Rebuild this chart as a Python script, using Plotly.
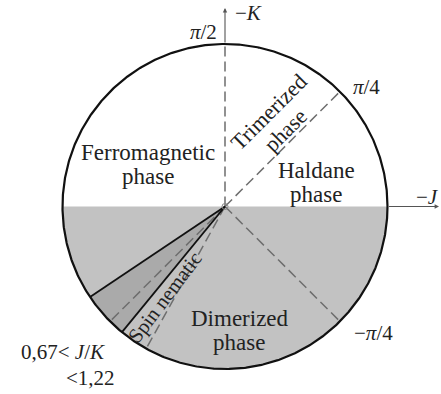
import numpy as np
import plotly.graph_objects as go

# ---- data ----
boundary_ratios = [0.67, 1.22]          # J/K boundaries of the spin-nematic wedge
dashed_angles_deg = [90, 45, 225, 241, -45]
tick_labels = ["<i>π</i>/2", "<i>π</i>/4", "−<i>π</i>/4"]
axis_labels = ["−<i>K</i>", "−<i>J</i>"]
phase_labels = ["Ferromagnetic", "phase", "Haldane", "phase", "Dimerized", "phase"]
rotated_labels = ["Trimerized", "phase", "Spin nematic"]
range_labels = ["0,67&lt; <i>J</i>/<i>K</i>", "&lt;1,22"]

W, H = 441, 394
CX, CY, R = 225, 206.5, 162.5


def px(x, y):
    return (x - CX) / R, (CY - y) / R


FONT = "Liberation Serif, Times New Roman, serif"
fig = go.Figure()

# lower half gray
t = np.radians(np.linspace(180, 360, 181))
fig.add_trace(go.Scatter(x=np.cos(t), y=np.sin(t), fill="toself", fillcolor="#c2c2c2",
                         mode="none", hoverinfo="skip"))
# wedge
a0 = 180 + np.degrees(np.arctan(boundary_ratios[0]))
a1 = 180 + np.degrees(np.arctan(boundary_ratios[1]))
tw = np.radians(np.linspace(a0, a1, 50))
fig.add_trace(go.Scatter(x=np.concatenate([[0], np.cos(tw), [0]]),
                         y=np.concatenate([[0], np.sin(tw), [0]]),
                         fill="toself", fillcolor="#aaaaaa", mode="none", hoverinfo="skip"))
# dashed lines
for a in dashed_angles_deg:
    ar = np.radians(a)
    fig.add_trace(go.Scatter(x=[0, np.cos(ar)], y=[0, np.sin(ar)], mode="lines",
                             line=dict(color="#6e6e6e", width=1.5, dash="10px,5px"),
                             hoverinfo="skip"))
# wedge boundaries
for a in (a0, a1):
    ar = np.radians(a)
    fig.add_trace(go.Scatter(x=[0, np.cos(ar)], y=[0, np.sin(ar)], mode="lines",
                             line=dict(color="#111111", width=1.8), hoverinfo="skip"))
# circle
tc = np.radians(np.linspace(0, 360, 721))
fig.add_trace(go.Scatter(x=np.cos(tc), y=np.sin(tc), mode="lines",
                         line=dict(color="#111111", width=2.2), hoverinfo="skip"))
# centre mark
fig.add_trace(go.Scatter(x=[0], y=[0], mode="markers",
                         marker=dict(symbol="circle-open", size=6, color="#888888", line=dict(width=1)),
                         hoverinfo="skip"))

ann = []
# axis arrows
x1, y1 = px(225, 8)
ann.append(dict(x=0, y=y1, ax=0, ay=1.0, xref="x", yref="y", axref="x", ayref="y",
                text="", showarrow=True, arrowhead=2, arrowsize=0.8, arrowwidth=1.1,
                arrowcolor="#555555"))
x2, y2 = px(439, 206.5)
ann.append(dict(x=x2, y=0, ax=1.0, ay=0, xref="x", yref="y", axref="x", ayref="y",
                text="", showarrow=True, arrowhead=2, arrowsize=0.8, arrowwidth=1.1,
                arrowcolor="#555555"))


def txt(s, x, y, size, angle=0):
    dx, dy = px(x, y)
    ann.append(dict(x=dx, y=dy, xref="x", yref="y", text=s, showarrow=False,
                    textangle=angle, font=dict(family=FONT, size=size, color="#222222"),
                    xanchor="center", yanchor="middle"))


txt(axis_labels[0], 248, 13, 21)
txt(axis_labels[1], 427, 197, 21)
txt(tick_labels[0], 203, 32, 21)
txt(tick_labels[1], 366, 87, 21)
txt(tick_labels[2], 373, 333, 21)

txt(phase_labels[0], 148, 152, 23)
txt(phase_labels[1], 148, 176, 23)
txt(phase_labels[2], 316, 170, 23)
txt(phase_labels[3], 316, 194, 23)
txt(phase_labels[4], 240, 318, 23)
txt(phase_labels[5], 239, 342, 23)

txt(rotated_labels[0], 268, 112, 22, -45)
txt(rotated_labels[1], 285, 130, 22, -45)
txt(rotated_labels[2], 165, 297, 20.5, -53)

txt(range_labels[0], 63, 352, 21)
txt(range_labels[1], 90, 378, 21)

fig.update_layout(
    width=W, height=H, margin=dict(l=0, r=0, t=0, b=0),
    paper_bgcolor="white", plot_bgcolor="white", showlegend=False,
    xaxis=dict(range=[(0 - CX) / R, (W - CX) / R], visible=False, fixedrange=True),
    yaxis=dict(range=[(CY - H) / R, CY / R], visible=False, fixedrange=True),
    annotations=ann,
)
fig.write_html("out.html", config={"displayModeBar": False},
               post_script="document.body.style.margin='0';document.body.style.overflow='hidden';")
